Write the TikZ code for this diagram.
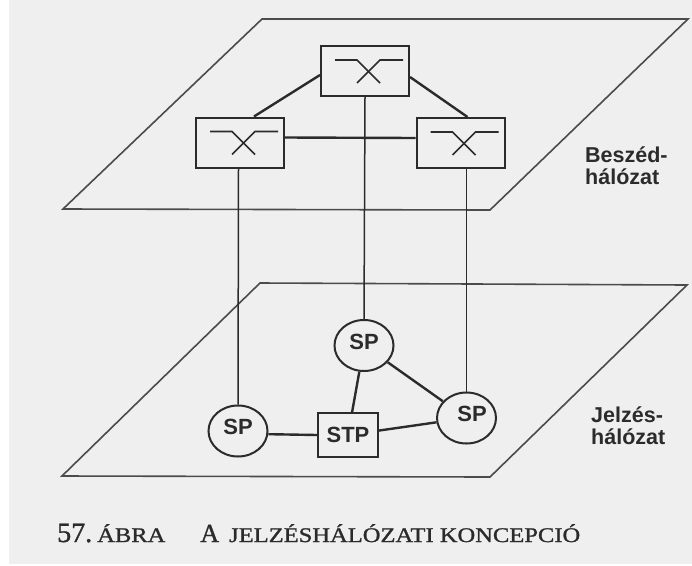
\documentclass[tikz,border=0pt]{standalone}
\usepackage{xcolor}
\usepackage{fontspec}
\setmainfont{Liberation Serif}
\setsansfont{Liberation Sans}
\newfontfamily\capfont[FakeStretch=1.18,FakeBold=1.2]{Liberation Serif}
\newfontfamily\numfont[FakeBold=1.2]{Liberation Serif}
\usetikzlibrary{shapes.geometric,positioning,calc}

\definecolor{paperc}{HTML}{EFEFEF}
\definecolor{inkc}{HTML}{2B2B2B}

\tikzset{
    plane/.style={draw=inkc!85, line width=1.6pt, line join=miter},
    switchbox/.style={draw=inkc, line width=2pt, rectangle, minimum width=88pt, minimum height=50pt, inner sep=0pt},
    spnode/.style={draw=inkc, line width=2pt, ellipse, minimum width=59pt, minimum height=51pt, inner sep=0pt, text depth=8pt, text=inkc, font=\sffamily\bfseries\fontsize{22}{22}\selectfont},
    stpnode/.style={draw=inkc, line width=2pt, rectangle, minimum width=60pt, minimum height=44pt, inner sep=0pt, text=inkc, font=\sffamily\bfseries\fontsize{22}{22}\selectfont},
    netlabel/.style={anchor=west, align=left, text=inkc, inner sep=0pt, font=\sffamily\bfseries\fontsize{21.5}{22}\selectfont},
    thinlink/.style={draw=inkc, line width=1.5pt},
    thicklink/.style={draw=inkc, line width=2.4pt},
    crossline/.style={draw=inkc, line width=1.6pt}
}

\begin{document}
\begin{tikzpicture}[x=1pt, y=-1pt]
\useasboundingbox (0,0) rectangle (692,565);
\fill[paperc] (9,0) rectangle (692,564);

% Planes
\draw[plane] (262,19) -- (688,19) -- (490,210) -- (63,209) -- cycle;
\draw[plane] (260,283) -- (687,285) -- (490,477) -- (62,476) -- cycle;

% Exchanges
\node[switchbox] (swa) at (365,71) {};
\node[switchbox] (swb) at (240,142.5) {};
\node[switchbox] (swc) at (460.5,143) {};

\foreach \sw in {swa, swb, swc} {
    \draw[crossline] ([shift={(-30,-11)}]\sw.center) -- ([shift={(-8,-11)}]\sw.center) -- ([shift={(15,12)}]\sw.center);
    \draw[crossline] ([shift={(38,-11)}]\sw.center) -- ([shift={(15,-11)}]\sw.center) -- ([shift={(-8,12)}]\sw.center);
}

% Signalling points
\node[spnode] (spa) at (364,345.5) {SP};
\node[spnode] (spb) at (238,431) {SP};
\node[spnode] (spc) at (466.5,418) {\hspace*{11pt}SP};
\node[stpnode] (stp) at (348,435) {STP};

% Links between exchanges
\draw[thicklink] ([yshift=-4pt]swa.west) -- ([xshift=14pt]swb.north);
\draw[thicklink] ([yshift=-6pt]swa.east) -- ([xshift=7pt]swc.north);
\draw[thicklink] ([yshift=5pt]swb.east) -- ([yshift=5pt]swc.west);

% Links between the planes
\draw[thinlink] (swa.south) -- (spa.north);
\draw[thinlink] ([xshift=-1.5pt]swb.south) -- (spb.north);
\draw[thinlink] ([xshift=6pt]swc.south) -- (spc.north);

% Signalling links
\draw[thicklink] (spa) -- (stp);
\draw[thicklink] (spa) -- (spc);
\draw[thicklink] (stp) -- (spc);
\draw[thicklink] (spb.-6) -- (stp.west);

% Labels
\node[netlabel] (beszed) at (585,166) {Beszéd-\\hálózat};
\node[netlabel] (jelzes) at (591,426) {Jelzés-\\hálózat};
\node[anchor=base west, inner sep=0pt, text=inkc] (caption) at (57,542) {\fontsize{28}{28}\numfont 57.\hspace{5pt}\fontsize{20.8}{28}\capfont ÁBRA\hspace{35pt}\fontsize{26}{28}\numfont A\hspace{10pt}\fontsize{20.8}{28}\capfont JELZÉSHÁLÓZATI KONCEPCIÓ};
\end{tikzpicture}
\end{document}
